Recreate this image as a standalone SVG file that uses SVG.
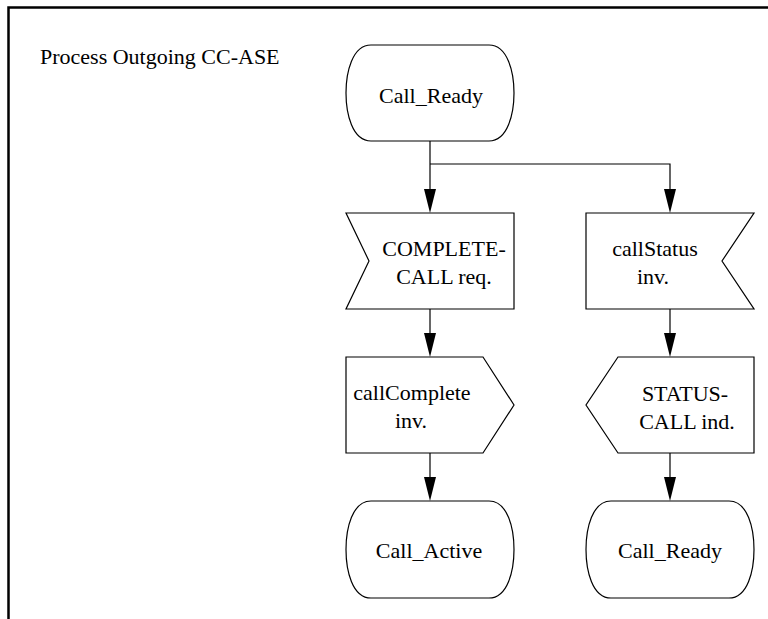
<svg xmlns="http://www.w3.org/2000/svg" width="768" height="619" viewBox="0 0 768 619">
<style>
.s{fill:#fff;stroke:#000;stroke-width:1.2}
.t{font-family:'Liberation Serif','Times New Roman','DejaVu Serif',serif;font-size:22px;fill:#000;text-anchor:middle}
.c{fill:none;stroke:#000;stroke-width:1.2}
.f{fill:none;stroke:#000;stroke-width:2.5}
</style>
<rect width="768" height="619" fill="#fff"/>
<path class="f" d="M8.5,619 V7.5 H768"/>
<text x="40" y="64" class="t" font-family="Liberation Serif, serif" style="text-anchor:start">Process Outgoing CC-ASE</text>
<g id="connectors">
<path class="c" d="M430,141 V189"/>
<path d="M424,189 L436,189 L430,213 Z"/>
<path class="c" d="M430,164 H670 V189"/>
<path d="M664,189 L676,189 L670,213 Z"/>
<path class="c" d="M430,309 V333"/>
<path d="M424,333 L436,333 L430,357 Z"/>
<path class="c" d="M670,309 V333"/>
<path d="M664,333 L676,333 L670,357 Z"/>
<path class="c" d="M430,453 V477"/>
<path d="M424,477 L436,477 L430,501 Z"/>
<path class="c" d="M670,453 V477"/>
<path d="M664,477 L676,477 L670,501 Z"/>
</g>
<g id="call_ready_top">
<path class="s" d="M371,45 H489 C508,45 514,73 514,93 C514,113 508,141 489,141 H371 C352,141 346,113 346,93 C346,73 352,45 371,45 Z"/>
<text x="431" y="103" class="t">Call_Ready</text>
</g>
<g id="complete_call_req">
<path class="s" d="M346,213 H514 V309 H346 L369,261 Z"/>
<text class="t"><tspan x="444" y="256">COMPLETE-</tspan><tspan x="444" y="284">CALL req.</tspan></text>
</g>
<g id="call_status_inv">
<path class="s" d="M586,213 H754 L722,261 L754,309 H586 Z"/>
<text class="t"><tspan x="655" y="256">callStatus</tspan><tspan x="653" y="284">inv.</tspan></text>
</g>
<g id="call_complete_inv">
<path class="s" d="M346,357 H483 L514,405 L483,453 H346 Z"/>
<text class="t"><tspan x="412" y="400">callComplete</tspan><tspan x="411" y="428">inv.</tspan></text>
</g>
<g id="status_call_ind">
<path class="s" d="M618,357 H754 V453 H618 L586,405 Z"/>
<text class="t"><tspan x="685" y="401">STATUS-</tspan><tspan x="687" y="429">CALL ind.</tspan></text>
</g>
<g id="call_active">
<path class="s" d="M371,501 H489 C508,501 514,529 514,549.5 C514,570 508,598 489,598 H371 C352,598 346,570 346,549.5 C346,529 352,501 371,501 Z"/>
<text x="429" y="558" class="t">Call_Active</text>
</g>
<g id="call_ready_bottom">
<path class="s" d="M611,501 H729 C748,501 754,529 754,549.5 C754,570 748,598 729,598 H611 C592,598 586,570 586,549.5 C586,529 592,501 611,501 Z"/>
<text x="670" y="558" class="t">Call_Ready</text>
</g>
</svg>
